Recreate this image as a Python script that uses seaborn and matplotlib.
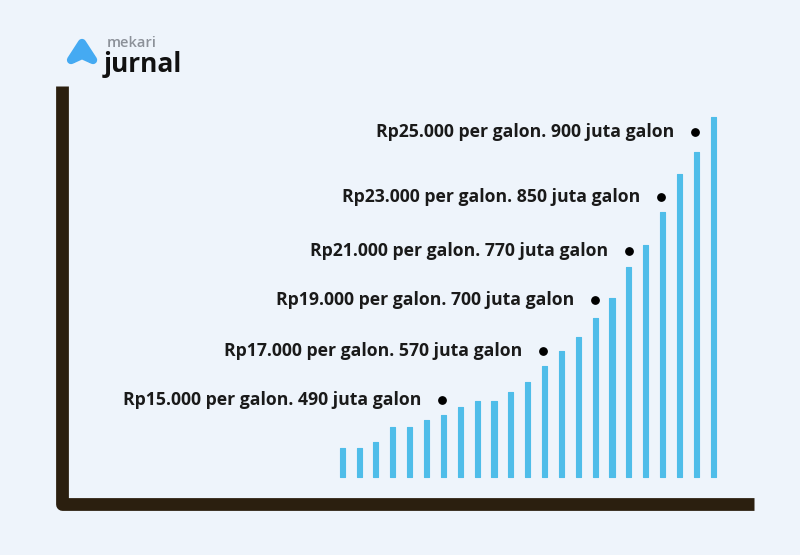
import matplotlib
matplotlib.use("Agg")
import matplotlib.pyplot as plt
import seaborn as sns
import pandas as pd
from matplotlib.patches import Polygon

# bar heights (relative volume), one bar per step
step = list(range(23))
volume = [29, 29, 35, 50, 50, 57, 62, 70, 76, 76, 85, 95, 111, 126,
          140, 159, 179, 210, 232, 265, 303, 325, 360]

# annotated points
dot_x = [5.9, 11.9, 15.0, 17.0, 18.9, 20.9]
dot_y = [77, 126, 177, 226, 280, 345]
labels = [
    "Rp15.000 per galon. 490 juta galon",
    "Rp17.000 per galon. 570 juta galon",
    "Rp19.000 per galon. 700 juta galon",
    "Rp21.000 per galon. 770 juta galon",
    "Rp23.000 per galon. 850 juta galon",
    "Rp25.000 per galon. 900 juta galon",
]

bg = "#eef4fb"
bar_color = "#4fbde9"
axis_color = "#2b1f0f"

sns.set_theme(style="white")
plt.rcParams["font.family"] = ["Open Sans", "DejaVu Sans"]

fig = plt.figure(figsize=(8, 5.55), dpi=100, facecolor=bg)
ax = fig.add_axes([0.078, 0.091, 0.864, 0.754])
ax.set_facecolor(bg)

df = pd.DataFrame({"step": step, "volume": volume})
sns.barplot(data=df, x="step", y="volume", color=bar_color, width=0.3,
            saturation=1, ax=ax)
for p in ax.patches:
    p.set_edgecolor(bar_color)
    p.set_linewidth(0.8)
    p.set_joinstyle("round")

ax.scatter(dot_x, dot_y, s=28, color="black", zorder=3)
for x, y, t in zip(dot_x, dot_y, labels):
    ax.annotate(t, (x, y), xytext=(-15, 0), textcoords="offset points",
                ha="right", va="center", fontsize=12.7, fontweight="bold",
                color="#1a1a1a")

ax.set_xlim(-16.6, 24.4)
ax.set_ylim(-27, 391)
ax.set_xticks([])
ax.set_yticks([])
ax.set_xlabel("")
ax.set_ylabel("")
for s in ax.spines.values():
    s.set_visible(False)

# thick L-shaped axis
ax.plot([0, 0, 1], [1, 0, 0], transform=ax.transAxes, color=axis_color,
        lw=9.2, solid_joinstyle="round", solid_capstyle="butt", clip_on=False)

# logo
icon = Polygon([[0.1025, 0.9225], [0.0888, 0.8919], [0.1025, 0.9009],
                [0.1163, 0.8919]], closed=True, transform=fig.transFigure,
               facecolor="#45aaf2", edgecolor="#45aaf2", lw=6,
               joinstyle="round")
fig.patches.append(icon)
fig.text(0.134, 0.922, "mekari", fontsize=10.5, color="#8c9199",
         fontweight="semibold", va="center")
fig.text(0.129, 0.883, "jurnal", fontsize=19, color="#111111",
         fontweight="bold", va="center")

fig.savefig("out.png", dpi=100, facecolor=bg)
